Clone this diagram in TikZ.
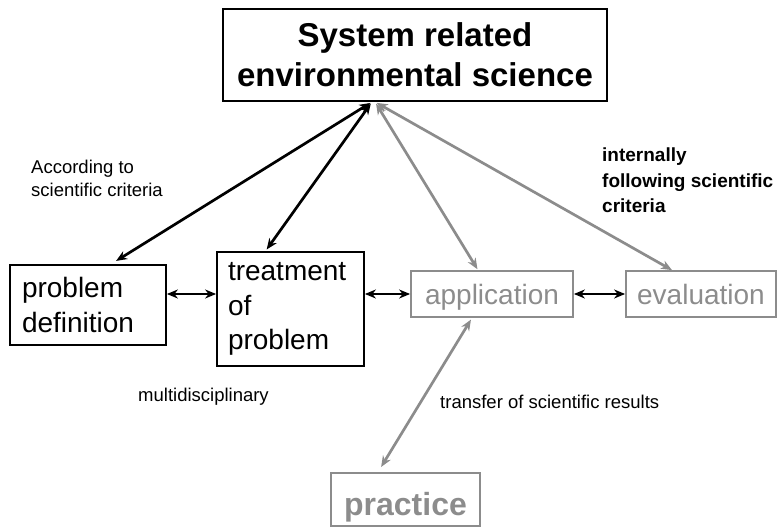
\documentclass[tikz,border=0pt]{standalone}
\usepackage{fontspec}
\setmainfont{Liberation Sans}
\usetikzlibrary{arrows.meta}
\definecolor{paleline}{RGB}{140,140,140}

\tikzset{
  box/.style={draw, line width=1.8pt, inner sep=0pt},
  boxtext/.style={font=\fontsize{28}{34.5}\selectfont},
  link/.style={line width=2.7pt, >={Stealth[length=11pt,width=9pt]}, <->},
  palebox/.style={box, draw=paleline, text=paleline},
  palelink/.style={link, draw=paleline, fill=paleline},
  note/.style={inner sep=0pt, align=left, font=\fontsize{18.5}{23}\selectfont}
}

\begin{document}
\begin{tikzpicture}[x=1pt,y=-1pt]
\useasboundingbox (0,0) rectangle (777,527);

% boxes
\node[box, minimum width=384, minimum height=92, align=center,
  font=\bfseries\fontsize{33}{40}\selectfont] (sci) at (415,55)
  {System related\\environmental science};
\node[box, boxtext, minimum width=156, minimum height=80, text width=132, align=left]
  (probdef) at (88,305) {problem\\definition};
\node[box, boxtext, minimum width=147, minimum height=114, text width=125, align=left]
  (treat) at (290.5,309) {treatment\\of\\problem};
\node[palebox, boxtext, minimum width=162, minimum height=46, text height=24pt, text depth=4pt]
  (app) at (492,294) {application};
\node[palebox, boxtext, minimum width=150, minimum height=46, text height=24pt, text depth=4pt]
  (eval) at (701,294) {evaluation};
\node[palebox, minimum width=149, minimum height=53, text height=33pt, text depth=2pt,
  font=\bfseries\fontsize{32}{38}\selectfont] (practice) at (405.5,499.5) {practice};

% where the arrows meet under the top box
\coordinate (hub) at ([xshift=-43pt]sci.south);
\coordinate (palehub) at ([xshift=-40pt]sci.south);

% arrows
\draw[palelink, shorten <=2pt, shorten >=1pt] (palehub) -- ([xshift=-14pt]app.north);
\draw[palelink, shorten <=2pt] (palehub) -- ([xshift=-29pt]eval.north);
\draw[palelink, shorten <=2pt, shorten >=6pt] ([xshift=-20pt]app.south) -- ([xshift=-27.5pt]practice.north);
\draw[link, shorten <=2pt, shorten >=6pt] (hub) -- ([xshift=23pt]probdef.north);
\draw[link, shorten <=2pt, shorten >=2pt] (hub) -- ([xshift=-25pt]treat.north);
\draw[link] (probdef.east |- app.west) -- (treat.west |- app.west);
\draw[link] (treat.east |- app.west) -- (app.west);
\draw[link] (app.east) -- (eval.west);

% labels
\node[note, anchor=north west] (crit) at (31,160) {According to\\scientific criteria};
\node[note, anchor=north west, font=\bfseries\fontsize{19}{25.5}\selectfont] (intern) at (602,148)
  {internally\\following scientific\\criteria};
\node[note, anchor=base west] (multi) at (138,401) {multidisciplinary};
\node[note, anchor=base west] (transfer) at (440,408) {transfer of scientific results};
\end{tikzpicture}
\end{document}
